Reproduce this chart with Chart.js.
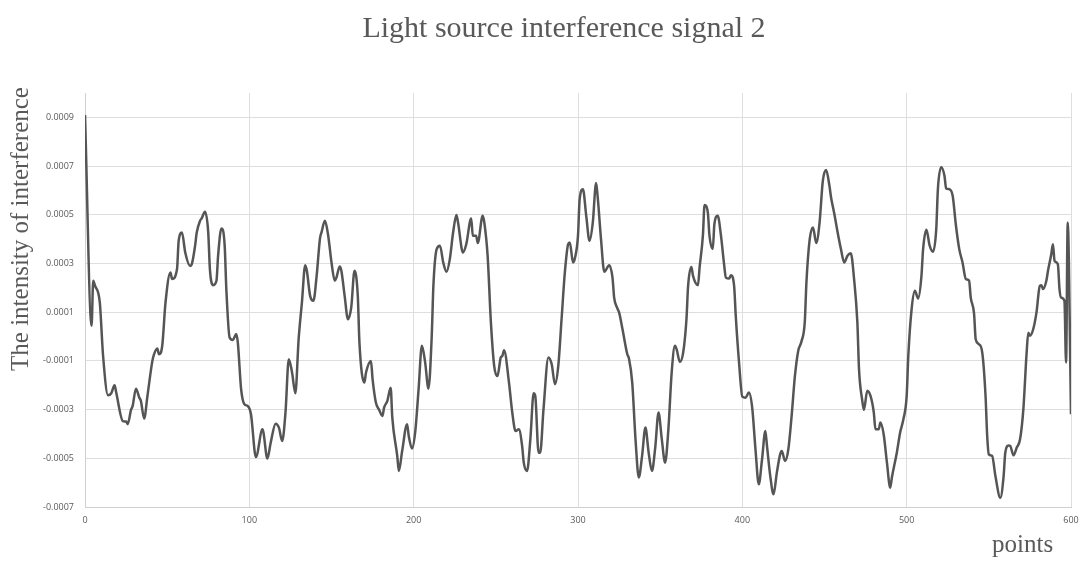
<!DOCTYPE html>
<html>
<head>
<meta charset="utf-8">
<script src="https://cdn.jsdelivr.net/npm/chart.js@4/dist/chart.umd.min.js"></script>
<style>
  html, body { margin: 0; padding: 0; background: #fff; }
  #wrap { width: 1081px; height: 561px; }
</style>
</head>
<body>
<div id="wrap"><canvas id="signal" width="1081" height="561"></canvas></div>
<script>
// sample index (x) and signal, in units of 1e-4
const pointIndex = [
  0, 4, 5, 6, 9, 11, 14, 16, 18, 19, 23, 25, 26, 28, 29, 31, 33, 34, 36, 38,
  41, 42, 44, 45, 47, 49, 52, 53, 56, 57, 59, 61, 64, 65, 67, 68, 70, 71, 73, 75,
  76, 78, 80, 81, 83, 85, 86, 88, 90, 92, 93, 95, 97, 99, 101, 104, 108, 111, 113, 116,
  118, 120, 122, 124, 126, 128, 130, 132, 134, 135, 137, 139, 141, 143, 144, 146, 148, 150, 152, 153,
  155, 156, 158, 160, 162, 164, 166, 167, 170, 171, 174, 175, 177, 179, 181, 182, 184, 186, 187, 190,
  191, 193, 196, 197, 199, 201, 203, 205, 207, 209, 211, 212, 214, 216, 218, 220, 222, 224, 226, 227,
  230, 232, 235, 236, 238, 239, 242, 243, 245, 247, 249, 251, 253, 254, 255, 258, 260, 262, 264, 266,
  267, 269, 271, 273, 274, 276, 277, 279, 282, 284, 286, 288, 290, 292, 294, 295, 297, 298, 300, 301,
  303, 305, 307, 309, 311, 312, 314, 316, 319, 321, 322, 324, 325, 327, 330, 331, 333, 335, 337, 339,
  341, 343, 345, 347, 349, 351, 353, 355, 357, 359, 360, 362, 364, 366, 367, 369, 370, 373, 374, 376,
  377, 379, 380, 382, 383, 385, 387, 389, 390, 392, 393, 395, 396, 398, 400, 402, 404, 406, 408, 410,
  412, 414, 415, 417, 419, 421, 423, 424, 426, 428, 430, 432, 434, 436, 438, 439, 441, 443, 445, 447,
  449, 451, 453, 454, 456, 458, 460, 462, 464, 466, 468, 470, 471, 473, 474, 476, 478, 480, 481, 483,
  484, 486, 488, 490, 491, 494, 496, 498, 500, 501, 503, 505, 507, 509, 510, 512, 514, 516, 518, 519,
  521, 523, 524, 526, 528, 530, 532, 534, 536, 538, 539, 541, 542, 544, 546, 548, 549, 550, 552, 554,
  557, 559, 560, 562, 563, 565, 567, 569, 571, 573, 574, 575, 577, 579, 581, 582, 583, 585, 586, 588,
  589, 590, 592, 593, 594, 596, 597, 598, 600
];
const intensityE4 = [
  9.1, 0.44, 2.29, 2.1, 1.4, -0.79, -2.41, -2.33, -2.0, -2.3, -3.47, -3.49, -3.6, -3.01, -2.85, -2.14, -2.5, -2.64, -3.37, -2.44,
  -1.0, -0.73, -0.49, -0.73, -0.38, 1.4, 2.63, 2.36, 2.77, 3.93, 4.27, 3.45, 2.9, 2.97, 3.73, 4.27, 4.75, 4.85, 5.12, 4.27,
  2.77, 2.11, 2.29, 3.32, 4.44, 3.73, 1.95, -0.04, -0.14, 0.1, -0.25, -2.16, -2.78, -2.85, -3.19, -4.95, -3.81, -5.01, -4.36, -3.58,
  -3.74, -4.29, -3.12, -0.93, -1.48, -2.33, -0.11, 1.4, 2.93, 2.7, 1.67, 1.47, 2.52, 4.03, 4.3, 4.75, 4.14, 3.04, 2.29, 2.42,
  2.88, 2.7, 1.67, 0.71, 1.19, 2.7, 1.67, -0.25, -1.89, -1.48, -1.0, -1.75, -2.71, -3.01, -3.26, -2.92, -2.64, -2.1, -3.33, -4.9,
  -5.52, -4.7, -3.6, -4.08, -4.6, -3.88, -2.16, -0.38, -1.07, -2.14, 0.03, 2.08, 3.59, 3.73, 3.04, 2.66, 3.18, 4.27, 4.99, 4.68,
  3.45, 3.79, 4.85, 4.14, 4.14, 3.84, 4.96, 4.68, 3.32, 0.58, -1.21, -1.62, -0.86, -0.79, -0.56, -1.89, -3.12, -3.88, -3.81, -4.49,
  -5.18, -5.52, -4.22, -2.33, -2.44, -4.77, -4.77, -2.99, -0.86, -1.14, -1.96, -1.21, 0.71, 2.63, 3.79, 3.86, 3.04, 3.18, 4.14, 5.64,
  6.05, 4.96, 3.93, 4.68, 6.3, 5.71, 4.0, 2.66, 2.93, 2.42, 1.6, 1.15, 0.99, 0.33, -0.73, -0.9, -1.89, -4.22, -5.79, -4.9,
  -3.74, -4.77, -5.52, -4.56, -3.12, -4.22, -5.18, -3.81, -1.48, -0.38, -0.52, -1.04, -0.66, 0.71, 2.08, 2.86, 2.49, 2.11, 2.84, 4.14,
  5.4, 5.1, 4.14, 3.59, 4.62, 4.96, 4.14, 2.9, 2.42, 2.38, 2.52, 2.08, 0.85, -1.07, -2.47, -2.51, -2.3, -2.92, -4.63, -6.07,
  -5.04, -3.88, -4.49, -5.73, -6.48, -5.59, -4.84, -4.7, -5.11, -4.63, -3.26, -1.62, -0.59, -0.2, 0.6, 2.22, 4.0, 4.48, 3.84, 4.68,
  6.4, 6.84, 6.19, 5.71, 5.03, 4.27, 3.59, 3.04, 3.32, 3.42, 2.36, 0.58, -1.34, -2.64, -3.01, -2.23, -2.44, -3.12, -3.81, -3.81,
  -3.53, -4.01, -5.18, -6.21, -5.79, -4.77, -3.95, -3.4, -2.44, -0.79, 1.12, 1.88, 1.56, 2.49, 3.59, 4.38, 3.73, 3.48, 4.41, 6.05,
  6.95, 6.6, 6.08, 6.05, 5.78, 4.55, 3.59, 3.04, 2.36, 2.29, 1.6, 0.95, -0.11, -0.32, -0.66, -2.44, -4.08, -4.84, -4.9, -5.73,
  -6.62, -5.73, -4.77, -4.47, -4.49, -4.88, -4.56, -4.22, -2.99, -0.66, 0.16, 0.03, 0.3, 0.99, 2.08, 2.11, 1.95, 2.29, 2.7, 3.38,
  3.79, 3.11, 2.97, 1.95, 1.6, 1.47, -1.07, 4.68, -3.19
];
const yTickValues = [-0.0007, -0.0005, -0.0003, -0.0001, 0.0001, 0.0003, 0.0005, 0.0007, 0.0009];
const xTickStep = 100;

const grey = '#595959';
const serif = '"Liberation Serif", "Times New Roman", serif';

// titles drawn as canvas text where the reference puts them
const textPlugin = {
  id: 'textPlugin',
  afterDraw(chart) {
    const ctx = chart.ctx;
    ctx.save();
    ctx.fillStyle = grey;
    ctx.textBaseline = 'alphabetic';

    ctx.font = '30px ' + serif;
    ctx.textAlign = 'center';
    ctx.fillText('Light source interference signal 2', 564, 37);

    ctx.font = '25px ' + serif;
    ctx.textAlign = 'left';
    ctx.fillText('points', 992, 552);

    ctx.translate(28, 229);
    ctx.rotate(-Math.PI / 2);
    ctx.textAlign = 'center';
    ctx.fillText('The intensity of interference', 0, 0);
    ctx.restore();
  }
};

const data = pointIndex.map((x, i) => ({ x: x, y: intensityE4[i] * 1e-4 }));

new Chart(document.getElementById('signal'), {
  type: 'line',
  data: {
    datasets: [{
      data: data,
      borderColor: '#555555',
      borderWidth: 2.5,
      pointRadius: 0,
      cubicInterpolationMode: 'monotone',
      fill: false
    }]
  },
  options: {
    responsive: false,
    animation: false,
    devicePixelRatio: 1,
    layout: { padding: { top: 93, right: 10, left: 0, bottom: 0 } },
    plugins: {
      legend: { display: false },
      title: { display: false },
      tooltip: { enabled: false }
    },
    scales: {
      x: {
        type: 'linear',
        min: 0,
        max: 600,
        afterFit: (s) => { s.height = 54; s.paddingRight = 0; },
        ticks: {
          stepSize: xTickStep,
          padding: 8,
          color: grey,
          font: { family: '"Open Sans", sans-serif', size: 9 }
        },
        grid: { color: '#dedede', lineWidth: 1, drawTicks: false },
        border: { color: '#d0d0d0' }
      },
      y: {
        min: -0.0007,
        max: 0.001,
        afterFit: (s) => { s.width = 85; },
        afterBuildTicks: (s) => { s.ticks = yTickValues.map(v => ({ value: v })); },
        ticks: {
          padding: 11,
          color: grey,
          font: { family: '"Open Sans", sans-serif', size: 9 },
          callback: (v) => v.toFixed(4)
        },
        grid: { color: '#dedede', lineWidth: 1, drawTicks: false },
        border: { color: '#d0d0d0' }
      }
    }
  },
  plugins: [textPlugin]
});
</script>
</body>
</html>
